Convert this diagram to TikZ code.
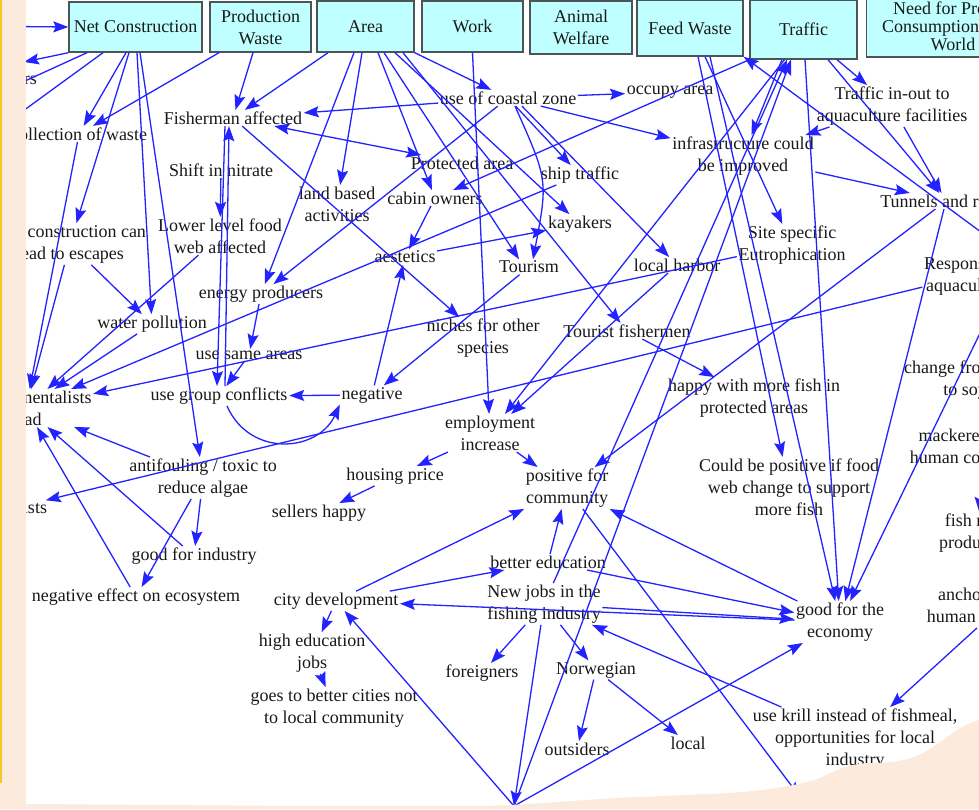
\documentclass[tikz,border=0pt]{standalone}
\usepackage{fontspec}
\setmainfont{Liberation Serif}
\usetikzlibrary{arrows.meta,calc}
\definecolor{boxfill}{RGB}{192,255,255}
\definecolor{boxline}{RGB}{75,85,85}
\definecolor{linkblue}{RGB}{35,35,255}
\definecolor{ink}{RGB}{25,25,25}
\definecolor{paper}{RGB}{252,234,220}
\definecolor{gold}{RGB}{245,200,40}
\tikzset{
  box/.style={draw=boxline, line width=1.4pt, fill=boxfill, align=center,
    inner sep=1pt, text=ink, font=\fontsize{18pt}{22pt}\selectfont},
  lbl/.style={align=center, inner sep=1.5pt, text=ink,
    font=\fontsize{18pt}{22pt}\selectfont},
  tip/.tip={Stealth[length=15pt,width=11pt,inset=2.5pt]},
  link/.style={draw=linkblue, line width=1.3pt, -tip},
  both/.style={draw=linkblue, line width=1.3pt, tip-tip},
}
\begin{document}
\begin{tikzpicture}[x=1pt,y=-1pt]
\useasboundingbox (0,0) rectangle (979,809);
\fill[white] (0,0) rectangle (979,809);
\begin{scope}
\clip (0,0) rectangle (979,809);

% ---------- top row of boxes ----------
\node[box, minimum width=133pt, minimum height=50pt] (nc) at (135.5,27) {Net Construction};
\node[box, minimum width=101pt, minimum height=50pt] (pw) at (260.5,27) {Production\\Waste};
\node[box, minimum width=97pt, minimum height=51pt] (area) at (365.5,26.5) {Area};
\node[box, minimum width=101pt, minimum height=51pt] (work) at (472.5,26.5) {Work};
\node[box, minimum width=102pt, minimum height=53pt] (aw) at (581,27.5) {Animal\\Welfare};
\node[box, minimum width=106pt, minimum height=56pt] (fw) at (690,28) {Feed Waste};
\node[box, minimum width=107pt, minimum height=59pt] (traffic) at (803.5,29.5) {Traffic};
\node[box, minimum width=173pt, minimum height=62pt,
  font=\fontsize{18pt}{18pt}\selectfont] (need) at (953,26) {Need for Protein\\Consumption in the\\World};

% ---------- labels ----------
\node[lbl] (fishers) at (13,78) {fishers};
\node[lbl] (collection) at (79,134) {collection of waste};
\node[lbl] (badcons) at (70,244) {Bad construction can\\lead to escapes};
\node[lbl] (envmad) at (26,408) {Environmentalists\\mad};
\node[lbl] (ists) at (14,508) {scientists};
\node[lbl] (fish) at (233,118) {Fisherman affected};
\node[lbl] (shift) at (221,170) {Shift in nitrate};
\node[lbl] (lower) at (220,236) {Lower level food\\web affected};
\node[lbl] (land) at (337,204) {land based\\activities};
\node[lbl] (coastal) at (508,98) {use of coastal zone};
\node[lbl] (occupy) at (670,92) {occupy area};
\node[lbl] (protected) at (462,163) {Protected area};
\node[lbl] (cabin) at (435,198) {cabin owners};
\node[lbl] (ship) at (580,175) {ship traffic};
\node[lbl] (kayak) at (580,224) {kayakers};
\node[lbl] (aest) at (405,257) {aestetics};
\node[lbl] (tourism) at (529,267) {Tourism};
\node[lbl] (harbor) at (677,265) {local harbor};
\node[lbl] (energy) at (261,294) {energy producers};
\node[lbl] (waterp) at (152,324) {water pollution};
\node[lbl] (samearea) at (249,355) {use same areas};
\node[lbl] (niches) at (483,338) {niches for other\\species};
\node[lbl] (tfish) at (627,331) {Tourist fishermen};
\node[lbl] (conflict) at (219,396) {use group conflicts};
\node[lbl] (neg) at (372,395) {negative};
\node[lbl] (employ) at (490,433) {employment\\increase};
\node[lbl] (happy) at (754,398) {happy with more fish in\\protected areas};
\node[lbl] (antif) at (203,478) {antifouling / toxic to\\reduce algae};
\node[lbl] (housing) at (395,476) {housing price};
\node[lbl] (sellers) at (319,513) {sellers happy};
\node[lbl] (posc) at (567,488) {positive for\\community};
\node[lbl] (couldbe) at (789,487) {Could be positive if food\\web change to support\\more fish};
\node[lbl] (goodind) at (194,556) {good for industry};
\node[lbl] (betteredu) at (548,562) {better education};
\node[lbl] (negeco) at (136,597) {negative effect on ecosystem};
\node[lbl] (city) at (336,601) {city development};
\node[lbl] (newjobs) at (544,604) {New jobs in the\\fishing industry};
\node[lbl] (economy) at (840,622) {good for the\\economy};
\node[lbl] (highedu) at (312,653) {high education\\jobs};
\node[lbl] (foreign) at (482,673) {foreigners};
\node[lbl] (norw) at (596,670) {Norwegian};
\node[lbl] (goes) at (334,708) {goes to better cities not\\to local community};
\node[lbl] (outsiders) at (577,749) {outsiders};
\node[lbl] (local) at (688,743) {local};
\node[lbl] (krill) at (855,739) {use krill instead of fishmeal,\\opportunities for local\\industry};
\node[lbl] (trafficio) at (892,106) {Traffic in-out to\\aquaculture facilities};
\node[lbl] (infra) at (743,156) {infrastructure could\\be improved};
\node[lbl] (tunnels) at (946,201) {Tunnels and roads};
\node[lbl] (sitespec) at (792,245) {Site specific\\Eutrophication};
\node[lbl] (respons) at (968,276) {Responsible\\aquaculture};
\node[lbl] (change) at (965,380) {change from fish\\to soy};
\node[lbl] (mackerel) at (983,448) {mackerel used for\\human consumption};
\node[lbl] (fishmeal) at (978,533) {fish meal\\production};
\node[lbl] (anchovy) at (1000,607) {anchovy used for\\human consumption};

% free ends of links that run out of the sheet
\coordinate (olin) at (-40,26);
\coordinate (olout) at (24,62);
\coordinate (olA) at (-10,97);
\coordinate (olB) at (-10,135);
\coordinate (orFW) at (1100,320);
\coordinate (orEco) at (1114,57);
\coordinate (hb1) at (514,806);
\coordinate (hb2) at (800,797);

% ---------- links ----------
% Net Construction
\draw[link] (olin) -- (nc.west);
\draw[link] (nc.south west) -- (olout);
\draw[link] ([xshift=-48.5pt]nc.south) -- (olA);
\draw[link] ([xshift=-32.5pt]nc.south) -- (olB);
\draw[link] ([xshift=-9.5pt]nc.south) -- (collection);
\draw[link] ([xshift=-6.5pt]nc.south) -- (badcons);
\draw[link] ([xshift=1.5pt]nc.south) -- (waterp);
\draw[link] ([xshift=4.5pt]nc.south) -- (antif);
% Production Waste
\draw[link] ([xshift=-41.5pt]pw.south) -- (collection);
\draw[link] ([xshift=-7.5pt]pw.south) -- (fish);
% Area
\draw[link] ([xshift=-37.5pt]area.south) -- (fish);
\draw[link] ([xshift=-11.5pt]area.south) -- (energy);
\draw[link] ([xshift=-3.5pt]area.south) -- (land);
\draw[link] ([xshift=12.5pt]area.south) -- (cabin);
\draw[link] ([xshift=18.5pt]area.south) -- ([xshift=-10pt]tourism.north);
\draw[link] ([xshift=29.5pt]area.south) -- (kayak);
\draw[link] ([xshift=37.5pt]area.south) -- (tfish);
\draw[link] (area.south east) -- (coastal);
% Work
\draw[link] (work.south) -- (employ);
% use of coastal zone
\draw[link] (coastal) -- (fish);
\draw[link] (coastal) -- (occupy);
\draw[link] (coastal) -- (infra);
\draw[link] (coastal) -- (ship);
\draw[link] ([xshift=7pt]coastal.south) .. controls (548,180) .. ([xshift=4pt]tourism.north);
\draw[link] ([xshift=14pt]coastal.south) -- (harbor);
\draw[link] (coastal) -- (energy);
\draw[both] (fish) -- (protected);
% Traffic
\draw[link] (traffic.south west) -- (cabin);
\draw[link] ([xshift=-21.5pt]traffic.south) -- (infra);
\draw[link] ([xshift=-19pt]traffic.south) -- (employ);
\draw[link] (newjobs) -- ([xshift=-16.5pt]traffic.south);
\draw[link] (hb1) -- ([xshift=-12.5pt]traffic.south);
\draw[link] ([xshift=1.5pt]traffic.south) -- (economy);
\draw[link] ([xshift=24.5pt]traffic.south) -- (tunnels);
\draw[link] ([xshift=33.5pt]traffic.south) -- (trafficio);
\draw[link] (trafficio) -- (tunnels);
\draw[link] (trafficio) -- (infra);
\draw[link] (infra) -- (tunnels);
\draw[link] (orFW) -- (fw.south east);
% Feed Waste
\draw[link] ([xshift=15pt]fw.south) -- (sitespec);
\draw[link] ([xshift=8pt]fw.south) -- (couldbe);
\draw[link] ([xshift=20pt]fw.south) -- (economy);
% right-hand side
\draw[link] (tunnels) -- (economy);
\draw[link] (orEco) -- (economy);
\draw[link] (tunnels) -- (posc);
\draw[link] (respons) -- (ists);
\draw[link] (mackerel) -- (fishmeal);
\draw[link] (anchovy) -- (krill);
\draw[link] (krill) -- (newjobs);
% jobs, community and economy
\draw[link] (newjobs) -- (foreign);
\draw[link] (newjobs) -- (norw);
\draw[link] (norw) -- (outsiders);
\draw[link] (norw) -- (local);
\draw[link] (newjobs) -- (hb1);
\draw[link] (hb1) -- (city);
\draw[link] (hb1) -- (economy);
\draw[link] (posc) -- (hb2);
\draw[link] (economy) -- (posc);
\draw[link] (betteredu) -- (economy);
\draw[link] (newjobs) -- (economy);
\draw[link] (economy) -- (city);
\draw[link] (city) -- (posc);
\draw[link] (city) -- (betteredu);
\draw[link] (betteredu) -- (posc);
\draw[link] (city) -- (highedu);
\draw[link] (highedu) -- (goes);
\draw[link] (employ) -- (posc);
\draw[link] (employ) -- (housing);
\draw[link] (housing) -- (sellers);
\draw[link] (harbor) -- (employ);
% pollution and conflicts
\draw[link] (antif) -- (goodind);
\draw[link] (antif) -- (negeco);
\draw[link] (antif) -- (envmad);
\draw[link] (goodind) -- (envmad);
\draw[link] (negeco) -- (envmad);
\draw[link] (collection) -- (envmad);
\draw[link] (badcons) -- (envmad);
\draw[link] (badcons) -- (waterp);
\draw[link] (lower) -- (envmad);
\draw[link] (waterp) -- (envmad);
\draw[link] (ship) -- (envmad);
\draw[link] (sitespec) -- (envmad);
\draw[link] (fish) -- (niches);
\draw[link] (shift) -- (lower);
\draw[link] ([xshift=-8pt]fish.south) -- ([xshift=-2pt]conflict.north);
\draw[link] ([xshift=6pt]conflict.north) -- ([xshift=-4pt]fish.south);
\draw[link] (energy) -- (samearea);
\draw[link] (samearea) -- (conflict);
\draw[link] (neg) -- (conflict);
\draw[link] ([xshift=8pt]conflict.south) .. controls (250,458) and (318,452) .. (neg.south west);
\draw[link] (neg) -- (aest);
\draw[link] (tourism) -- (neg);
\draw[link] (cabin) -- (aest);
\draw[link] (aest) -- (kayak);
\draw[link] (tfish) -- (happy);
\end{scope}

% ---------- paper edges ----------
\fill[paper] (0,809) -- (0,803) -- (26,804) -- (300,806) -- (487,806)
  .. controls (560,803) and (600,798) .. (640,797) -- (730,793)
  .. controls (770,790) and (800,785) .. (820,778)
  .. controls (840,768) and (850,764) .. (870,763)
  .. controls (895,763) and (910,760) .. (925,752)
  .. controls (945,740) and (960,725) .. (979,720) -- (979,809) -- cycle;
\fill[paper] (0,0) rectangle (26,809);
\draw[gold, line width=2pt] (1,0) -- (1,783);
\end{tikzpicture}
\end{document}
